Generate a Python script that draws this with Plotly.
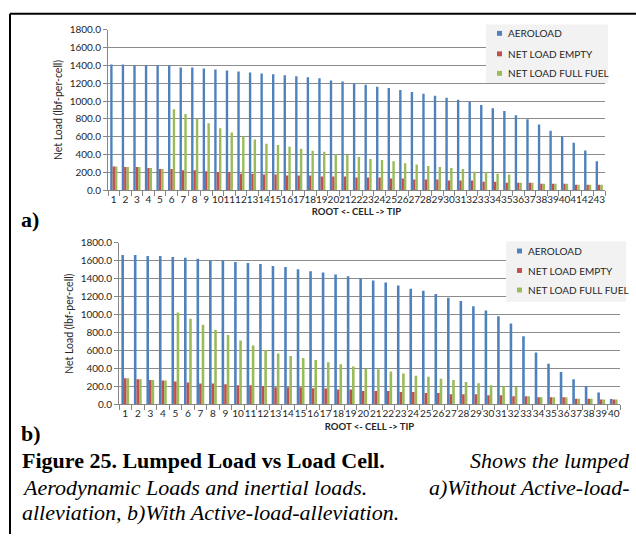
import plotly.graph_objects as go

W, H = 636, 540

# ---------------- data ----------------
cells_a = [str(i) for i in range(1, 44)]
aero_a = [1409, 1409, 1398, 1398, 1398, 1395, 1376, 1376, 1365, 1354,
          1343, 1332, 1321, 1310, 1300, 1289, 1278, 1267, 1256, 1230,
          1219, 1197, 1183, 1161, 1146, 1124, 1102, 1081, 1059, 1037,
          1015, 993, 957, 920, 887, 840, 796, 737, 668, 602,
          533, 445, 325]
empty_a = [265, 259, 259, 248, 237, 237, 223, 223, 212, 204,
           204, 183, 183, 175, 175, 164, 164, 164, 153, 153,
           153, 142, 142, 142, 131, 131, 120, 120, 120, 110,
           110, 110, 95, 95, 84, 84, 84, 73, 73, 73,
           62, 62, 62]
full_a = [265, 259, 259, 248, 237, 909, 854, 800, 752, 694,
          646, 602, 570, 522, 507, 486, 464, 442, 431, 402,
          394, 372, 350, 340, 325, 303, 288, 270, 259, 248,
          237, 208, 204, 183, 175, 84, 84, 73, 73, 73,
          62, 62, 62]

cells_b = [str(i) for i in range(1, 41)]
aero_b = [1666, 1666, 1655, 1655, 1644, 1633, 1623, 1604, 1604, 1586,
          1575, 1565, 1543, 1532, 1507, 1485, 1470, 1449, 1427, 1402,
          1380, 1358, 1326, 1290, 1268, 1232, 1188, 1152, 1094, 1047,
          982, 902, 761, 580, 453, 362, 282, 206, 134, 62]
empty_b = [293, 282, 272, 268, 257, 246, 235, 235, 225, 214,
           214, 206, 192, 192, 192, 181, 178, 167, 167, 149,
           149, 149, 138, 138, 127, 127, 113, 113, 113, 102,
           102, 91, 91, 80, 80, 80, 65, 65, 55, 55]
full_b = [293, 282, 272, 268, 1025, 956, 887, 829, 775, 713,
          656, 608, 569, 540, 517, 496, 471, 447, 422, 396,
          393, 367, 345, 320, 309, 287, 273, 251, 236, 215,
          200, 196, 91, 80, 80, 80, 65, 65, 55, 55]

series_names = ["AEROLOAD", "NET LOAD EMPTY", "NET LOAD FULL FUEL"]
series_colors = ["#4f81bd", "#c0504d", "#9bbb59"]
y_ticks = [0, 200, 400, 600, 800, 1000, 1200, 1400, 1600, 1800]
x_title = "ROOT <- CELL -> TIP"
y_title = "Net Load (lbf-per-cell)"

# ---------------- helpers ----------------
def px(x):
    return x / W

def py(y):
    return 1 - y / H

LABEL_FONT = "Lato, 'Liberation Sans', sans-serif"
TEXT_COL = "#262626"

fig = go.Figure()

for xs, vals_list, xa, ya in [
    (cells_a, [aero_a, empty_a, full_a], "x", "y"),
    (cells_b, [aero_b, empty_b, full_b], "x2", "y2"),
]:
    for name, col, vals in zip(series_names, series_colors, vals_list):
        fig.add_trace(go.Bar(x=xs, y=vals, name=name, marker_color=col,
                             marker_line_width=0, xaxis=xa, yaxis=ya,
                             showlegend=False))

common_x = dict(type="category", tickson="boundaries", ticks="outside", ticklen=5,
                tickmode="linear", tick0=0, dtick=1,
                tickcolor="#868686", showline=True, linecolor="#868686", linewidth=1,
                showgrid=False, tickangle=0,
                tickfont=dict(family=LABEL_FONT, size=10, color=TEXT_COL))
common_y = dict(range=[0, 1800], tickvals=y_ticks, tickformat=".1f", ticks="outside",
                ticklen=4, tickcolor="#868686", showline=True, linecolor="#868686",
                showgrid=True, gridcolor="#8c8c8c", gridwidth=1, zeroline=False,
                tickfont=dict(family=LABEL_FONT, size=10, color=TEXT_COL))

fig.update_layout(
    width=W, height=H, margin=dict(l=0, r=0, t=0, b=0),
    paper_bgcolor="white", plot_bgcolor="white",
    barmode="group", bargap=0.38, bargroupgap=0,
    showlegend=False,
    xaxis=dict(domain=[px(108), px(605)], anchor="y",
               title=dict(text="<b>" + x_title + "</b>", standoff=4,
                          font=dict(family=LABEL_FONT, size=9.5, color=TEXT_COL)),
               **common_x),
    yaxis=dict(domain=[py(187.7), py(23.3)], anchor="x",
               title=dict(text=y_title, standoff=4,
                          font=dict(family=LABEL_FONT, size=10.5, color=TEXT_COL)),
               **common_y),
    xaxis2=dict(domain=[px(119), px(620)], anchor="y2",
                title=dict(text="<b>" + x_title + "</b>", standoff=4,
                           font=dict(family=LABEL_FONT, size=9.5, color=TEXT_COL)),
                **common_x),
    yaxis2=dict(domain=[py(407.3), py(241.7)], anchor="x2",
                title=dict(text=y_title, standoff=4,
                           font=dict(family=LABEL_FONT, size=10.5, color=TEXT_COL)),
                **common_y),
)

shapes = []
annotations = []

# manual legends (small squares like the original)
for (bx0, by0, bx1, by1, rows) in [
    (486, 18, 608, 78, [27, 48, 68]),
    (506, 240, 626, 302, [250, 270, 290]),
]:
    shapes.append(dict(type="rect", xref="paper", yref="paper",
                       x0=px(bx0), x1=px(bx1), y0=py(by1), y1=py(by0),
                       fillcolor="#f2f2f2", line=dict(width=0), layer="above"))
    for name, col, ry in zip(series_names, series_colors, rows):
        shapes.append(dict(type="rect", xref="paper", yref="paper",
                           x0=px(bx0 + 11), x1=px(bx0 + 16), y0=py(ry + 2.5), y1=py(ry - 2.5),
                           fillcolor=col, line=dict(width=0), layer="above"))
        annotations.append(dict(text=name, xref="paper", yref="paper",
                                x=px(bx0 + 20), y=py(ry), xanchor="left", yanchor="middle",
                                showarrow=False,
                                font=dict(family=LABEL_FONT, size=10, color=TEXT_COL)))

# frame lines of the figure box
shapes.append(dict(type="line", xref="paper", yref="paper",
                   x0=px(10), x1=1, y0=py(7), y1=py(7), line=dict(color="black", width=2)))
shapes.append(dict(type="line", xref="paper", yref="paper",
                   x0=px(10), x1=px(10), y0=py(7), y1=0, line=dict(color="black", width=2)))

SERIF = "'Liberation Serif', 'Times New Roman', serif"
annotations += [
    dict(text="<b>a)</b>", x=px(19), y=py(218), xanchor="left", yanchor="middle"),
    dict(text="<b>b)</b>", x=px(19), y=py(437), xanchor="left", yanchor="middle"),
    dict(text="<b>Figure 25. Lumped Load vs Load Cell.</b>", x=px(20), y=py(465),
         xanchor="left", yanchor="middle"),
    dict(text="<i>Shows the lumped</i>", x=px(632), y=py(465), xanchor="right", yanchor="middle"),
    dict(text="<i>Aerodynamic Loads and inertial loads.</i>", x=px(20), y=py(492),
         xanchor="left", yanchor="middle"),
    dict(text="<i>a)Without Active-load-</i>", x=px(632), y=py(492), xanchor="right",
         yanchor="middle"),
    dict(text="<i>alleviation, b)With Active-load-alleviation.</i>", x=px(20), y=py(518),
         xanchor="left", yanchor="middle"),
]
for a in annotations[-7:]:
    a.update(xref="paper", yref="paper", showarrow=False,
             font=dict(family=SERIF, size=22, color="black"))

fig.update_layout(shapes=shapes, annotations=annotations)
fig.write_html("out.html")
